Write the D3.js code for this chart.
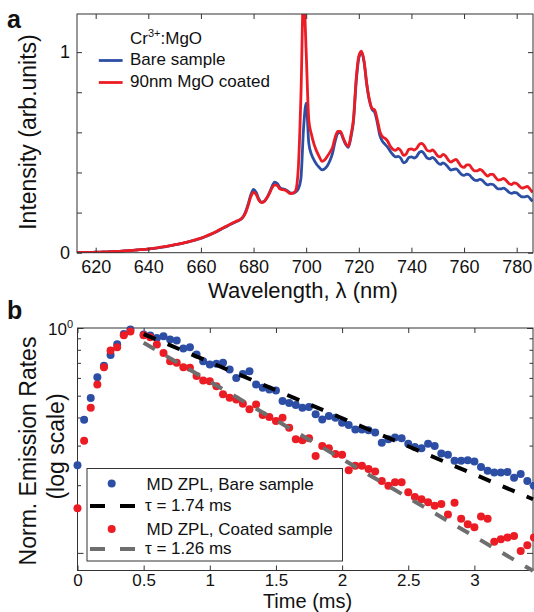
<!DOCTYPE html>
<html><head><meta charset="utf-8">
<script src="https://cdn.jsdelivr.net/npm/d3@7"></script>
<style>
body{margin:0;background:#fff}
svg{display:block}
text{font-family:"Liberation Sans",Arial,Helvetica,sans-serif;fill:#111}
</style>
</head><body>
<svg id="c" width="534" height="612"></svg>
<script>
// ---------- Panel a data ----------
const wavelength = d3.range(613, 787); // nm, 1 nm grid
const bareSpectrum = [
0.000,0.001,0.001,0.001,0.002,0.002,0.002,0.003,0.003,0.003,
0.004,0.004,0.005,0.005,0.006,0.006,0.007,0.008,0.009,0.010,
0.011,0.012,0.013,0.014,0.015,0.016,0.017,0.018,0.020,0.021,
0.023,0.025,0.027,0.029,0.031,0.034,0.036,0.039,0.041,0.044,
0.047,0.050,0.053,0.057,0.060,0.064,0.068,0.072,0.077,0.082,
0.087,0.093,0.099,0.105,0.112,0.119,0.126,0.132,0.140,0.146,
0.152,0.158,0.165,0.178,0.205,0.245,0.290,0.315,0.300,0.268,
0.252,0.255,0.272,0.298,0.330,0.352,0.345,0.325,0.318,0.315,
0.307,0.298,0.297,0.303,0.318,0.370,0.620,0.745,0.545,0.490,
0.462,0.440,0.425,0.413,0.418,0.432,0.458,0.495,0.555,0.595,
0.600,0.570,0.540,0.525,0.575,0.660,0.850,0.970,1.000,0.950,
0.840,0.760,0.715,0.700,0.650,0.585,0.555,0.540,0.525,0.505,
0.488,0.478,0.480,0.470,0.448,0.455,0.475,0.478,0.472,0.480,
0.500,0.505,0.490,0.472,0.468,0.475,0.465,0.448,0.440,0.448,
0.440,0.425,0.412,0.415,0.418,0.405,0.390,0.385,0.392,0.388,
0.374,0.362,0.360,0.366,0.360,0.346,0.338,0.342,0.340,0.328,
0.318,0.318,0.322,0.314,0.302,0.296,0.300,0.298,0.287,0.278,
0.278,0.282,0.272,0.256];
const coatedSpectrum = [
0.000,0.001,0.001,0.001,0.002,0.002,0.002,0.003,0.003,0.003,
0.004,0.004,0.005,0.005,0.006,0.006,0.007,0.008,0.009,0.010,
0.011,0.012,0.013,0.014,0.015,0.016,0.017,0.019,0.020,0.022,
0.023,0.026,0.028,0.030,0.032,0.034,0.037,0.040,0.042,0.045,
0.047,0.051,0.054,0.057,0.061,0.064,0.069,0.073,0.077,0.083,
0.089,0.094,0.100,0.107,0.114,0.121,0.128,0.134,0.141,0.148,
0.154,0.160,0.166,0.178,0.200,0.238,0.280,0.300,0.290,0.262,
0.250,0.255,0.272,0.295,0.322,0.338,0.335,0.318,0.314,0.312,
0.303,0.295,0.297,0.310,0.420,0.780,1.300,1.000,0.660,0.590,
0.540,0.505,0.478,0.455,0.462,0.480,0.500,0.525,0.575,0.605,
0.605,0.575,0.545,0.530,0.585,0.670,0.865,0.980,1.005,0.955,
0.845,0.765,0.720,0.712,0.665,0.605,0.578,0.570,0.555,0.530,
0.515,0.510,0.520,0.508,0.485,0.492,0.515,0.518,0.512,0.520,
0.540,0.545,0.530,0.510,0.506,0.512,0.500,0.482,0.478,0.490,
0.482,0.462,0.452,0.460,0.465,0.448,0.430,0.425,0.438,0.438,
0.420,0.408,0.408,0.415,0.408,0.392,0.382,0.390,0.390,0.375,
0.362,0.364,0.370,0.360,0.346,0.340,0.348,0.345,0.332,0.322,
0.325,0.330,0.318,0.300];
const xTicksA = [620,640,660,680,700,720,740,760,780];
const yTicksA = [0,0.2,0.4,0.6,0.8,1];
const yLabelsA = [0,1];
const legendA = ["Bare sample","90nm MgO coated"];

// ---------- Panel b data ----------
const decayTime = [0,0.05,0.1,0.15,0.2,0.25,0.3,0.35,0.4,
0.5,0.55,0.6,0.65,0.7,0.75,0.8,0.85,0.9,0.95,1.0,1.05,1.1,1.15,1.2,1.25,1.3,1.35,1.4,1.45,
1.5,1.55,1.6,1.65,1.7,1.75,1.8,1.85,1.9,1.95,2.0,2.05,2.1,2.15,2.2,2.25,2.3,2.35,2.4,2.45,
2.5,2.55,2.6,2.65,2.7,2.75,2.8,2.85,2.9,2.95,3.0,3.05,3.1,3.15,3.2,3.25,3.3,3.35,3.4,3.45];
const bareRates = [0.245,0.391,0.488,0.604,0.679,0.759,0.847,0.940,0.986,
0.935,0.925,0.903,0.918,0.888,0.879,0.810,0.821,0.762,0.712,0.688,0.693,0.700,0.654,0.600,0.625,0.643,0.561,0.542,0.533,
0.528,0.473,0.464,0.454,0.442,0.445,0.413,0.392,0.406,0.399,0.379,0.370,0.354,0.354,0.351,0.343,0.309,0.320,0.326,0.323,
0.306,0.296,0.292,0.306,0.299,0.277,0.273,0.257,0.257,0.258,0.255,0.241,0.232,0.228,0.228,0.229,0.216,0.224,0.209,0.199];
const coatedRates = [0.158,0.315,0.442,0.561,0.669,0.794,0.821,0.928,0.966,
0.928,0.909,0.844,0.775,0.712,0.700,0.669,0.665,0.611,0.584,0.580,0.551,0.507,0.490,0.481,0.460,0.435,0.457,0.410,0.402,
0.386,0.399,0.360,0.320,0.317,0.323,0.270,0.299,0.292,0.275,0.273,0.233,0.244,0.244,0.236,0.230,0.209,0.199,0.206,0.206,
0.186,0.177,0.173,0.168,0.162,0.165,0.148,0.167,0.142,0.134,0.130,0.145,0.142,0.112,0.115,0.117,0.119,0.102,0.108,0.117];
const tauBare = 1.74, tauCoated = 1.26;       // ms
const fitStart = 0.5, fitEnd = 3.443;
const fitAmpBare = 0.94, fitAmpCoated = 0.86;
const xTicksB = [0,0.5,1,1.5,2,2.5,3];
const yMajorB = [0.1,1];
const yMinorB = [0.2,0.3,0.4,0.5,0.6,0.7,0.8,0.9];
const legendB = ["MD ZPL, Bare sample","\u03C4 = 1.74 ms","MD ZPL, Coated sample","\u03C4 = 1.26 ms"];

// ---------- styles ----------
const BLUE = "#2c4ea4", RED = "#ec1c24", GRAY = "#6e6e6e", AX = "#333";
const svg = d3.select("#c");

function styleAxis(g, fs){ g.select(".domain").remove(); g.selectAll("line").attr("stroke",AX); g.selectAll("text").attr("fill","#111").style("font-size",(fs||18)+"px").style("font-family",'"Liberation Sans",Arial,sans-serif'); }

// ================= Panel a =================
const A = {l:77, r:533, t:14, b:252.7};
const xA = d3.scaleLinear([612.9, 786.2],[A.l, A.r]);
const yA = d3.scaleLinear([0, 1.19],[A.b, A.t]);

svg.append("clipPath").attr("id","clipA").append("rect")
  .attr("x",A.l).attr("y",A.t).attr("width",A.r-A.l).attr("height",A.b-A.t);

const lineA = d3.line().x((d,i)=>xA(wavelength[i])).y(d=>yA(d)).curve(d3.curveMonotoneX);
const gA = svg.append("g").attr("clip-path","url(#clipA)");
gA.append("path").attr("d",lineA(bareSpectrum)).attr("fill","none").attr("stroke",BLUE).attr("stroke-width",2.8).attr("stroke-linejoin","round");
gA.append("path").attr("d",lineA(coatedSpectrum)).attr("fill","none").attr("stroke",RED).attr("stroke-width",2.8).attr("stroke-linejoin","round");

svg.append("g").attr("transform",`translate(0,${A.b})`)
  .call(d3.axisBottom(xA).tickValues(xTicksA).tickSizeInner(-5).tickSizeOuter(0).tickPadding(7.5).tickFormat(d3.format("d"))).call(g=>styleAxis(g,18));
svg.append("g").attr("transform",`translate(0,${A.t})`)
  .call(d3.axisTop(xA).tickValues(xTicksA).tickSizeInner(-5).tickSizeOuter(0).tickFormat("")).call(styleAxis);
svg.append("g").attr("transform",`translate(${A.l},0)`)
  .call(d3.axisLeft(yA).tickValues(yTicksA).tickSizeInner(-5).tickSizeOuter(0).tickPadding(7)
    .tickFormat(d=>yLabelsA.includes(d)?d3.format("d")(d):"")).call(styleAxis);
svg.append("g").attr("transform",`translate(${A.r},0)`)
  .call(d3.axisRight(yA).tickValues(yTicksA).tickSizeInner(-5).tickSizeOuter(0).tickFormat("")).call(styleAxis);
svg.append("rect").attr("x",A.l).attr("y",A.t).attr("width",A.r-A.l).attr("height",A.b-A.t)
  .attr("fill","none").attr("stroke",AX).attr("stroke-width",1);

// legend a
const legA = svg.append("g");
const crText = legA.append("text").attr("x",130).attr("y",43.5).style("font-size","17px");
crText.append("tspan").text("Cr");
crText.append("tspan").text("3+").style("font-size","11px").attr("dy",-6.5);
crText.append("tspan").text(":MgO").attr("dy",6.5);
[[BLUE,64.5],[RED,86.5]].forEach(([c,yb],i)=>{
  legA.append("line").attr("x1",98.8).attr("x2",122.6).attr("y1",yb-4).attr("y2",yb-4).attr("stroke",c).attr("stroke-width",2.8);
  legA.append("text").attr("x",130).attr("y",yb).style("font-size","17px").text(legendA[i]);
});

svg.append("text").attr("x",303).attr("y",298).attr("text-anchor","middle").style("font-size","22px").text("Wavelength, \u03BB (nm)");
svg.append("text").attr("transform","translate(36,132) rotate(-90)").attr("text-anchor","middle").style("font-size","23px").text("Intensity (arb.units)");
svg.append("text").attr("x",7).attr("y",28).style("font-size","25px").style("font-weight","bold").text("a");

// ================= Panel b =================
const B = {l:77.5, r:533, t:328, b:570.5};
const xB = d3.scaleLinear([0, fitEnd],[B.l, B.r]);
const yB = d3.scaleLog([0.0835, 1],[B.b, B.t]);

svg.append("g").attr("transform",`translate(0,${B.b})`)
  .call(d3.axisBottom(xB).tickValues(xTicksB).tickSizeInner(-5).tickSizeOuter(0).tickPadding(3).tickFormat(d3.format("~g"))).call(g=>styleAxis(g,17));
svg.append("g").attr("transform",`translate(0,${B.t})`)
  .call(d3.axisTop(xB).tickValues(xTicksB).tickSizeInner(-5).tickSizeOuter(0).tickFormat("")).call(styleAxis);
[[d3.axisLeft,B.l],[d3.axisRight,B.r]].forEach(([ax,xp])=>{
  svg.append("g").attr("transform",`translate(${xp},0)`)
    .call(ax(yB).tickValues(yMajorB).tickSizeInner(-6).tickSizeOuter(0).tickFormat("")).call(styleAxis);
  svg.append("g").attr("transform",`translate(${xp},0)`)
    .call(ax(yB).tickValues(yMinorB).tickSizeInner(-3.5).tickSizeOuter(0).tickFormat("")).call(styleAxis);
});
svg.append("rect").attr("x",B.l).attr("y",B.t).attr("width",B.r-B.l).attr("height",B.b-B.t)
  .attr("fill","none").attr("stroke",AX).attr("stroke-width",1);
const t10 = svg.append("text").attr("x",73).attr("y",yB(1)+6.5).attr("text-anchor","end").style("font-size","17px");
t10.append("tspan").text("10");
t10.append("tspan").text("0").style("font-size","11px").attr("dy",-7);

// dots
const gB = svg.append("g");
gB.selectAll("circle.bare").data(bareRates).join("circle").attr("class","bare")
  .attr("cx",(d,i)=>xB(decayTime[i])).attr("cy",d=>yB(d)).attr("r",4).attr("fill",BLUE);
gB.selectAll("circle.coated").data(coatedRates).join("circle").attr("class","coated")
  .attr("cx",(d,i)=>xB(decayTime[i])).attr("cy",d=>yB(d)).attr("r",4).attr("fill",RED);

// exponential fits (straight on log axis)
function fitPts(amp,tau){ return [fitStart,fitEnd].map(t=>[t, amp*Math.exp(-(t-fitStart)/tau)]); }
const lineB = d3.line().x(d=>xB(d[0])).y(d=>yB(d[1]));
gB.append("path").attr("d",lineB(fitPts(fitAmpBare,tauBare))).attr("stroke","#000").attr("stroke-width",4).attr("stroke-dasharray","13,13").attr("fill","none");
gB.append("path").attr("d",lineB(fitPts(fitAmpCoated,tauCoated))).attr("stroke",GRAY).attr("stroke-width",4).attr("stroke-dasharray","13,13").attr("fill","none");

// legend b
const legB = svg.append("g");
legB.append("rect").attr("x",87).attr("y",468.5).attr("width",255.5).attr("height",92.5).attr("fill","#fff").attr("stroke",AX).attr("stroke-width",1);
const rowsB = [
  {type:"dot",c:BLUE,y:483.5,tb:490},
  {type:"dash",c:"#000",y:506,tb:510.5},
  {type:"dot",c:RED,y:529,tb:535},
  {type:"dash",c:GRAY,y:549,tb:554}];
rowsB.forEach((r,i)=>{
  if(r.type==="dot") legB.append("circle").attr("cx",111.7).attr("cy",r.y).attr("r",4).attr("fill",r.c);
  else legB.append("line").attr("x1",90).attr("x2",135).attr("y1",r.y).attr("y2",r.y).attr("stroke",r.c).attr("stroke-width",4).attr("stroke-dasharray","15,15");
  legB.append("text").attr("x",i%2?145:146.5).attr("y",r.tb).style("font-size","17px").text(legendB[i]);
});

svg.append("text").attr("x",307.5).attr("y",607.5).attr("text-anchor","middle").style("font-size","20px").text("Time (ms)");
svg.append("text").attr("transform","translate(35.5,451) rotate(-90)").attr("text-anchor","middle").style("font-size","23px").text("Norm. Emission Rates");
svg.append("text").attr("transform","translate(64,446.5) rotate(-90)").attr("text-anchor","middle").style("font-size","23px").text("(log scale)");
svg.append("text").attr("x",7).attr("y",319).style("font-size","25px").style("font-weight","bold").text("b");
</script>
</body></html>
